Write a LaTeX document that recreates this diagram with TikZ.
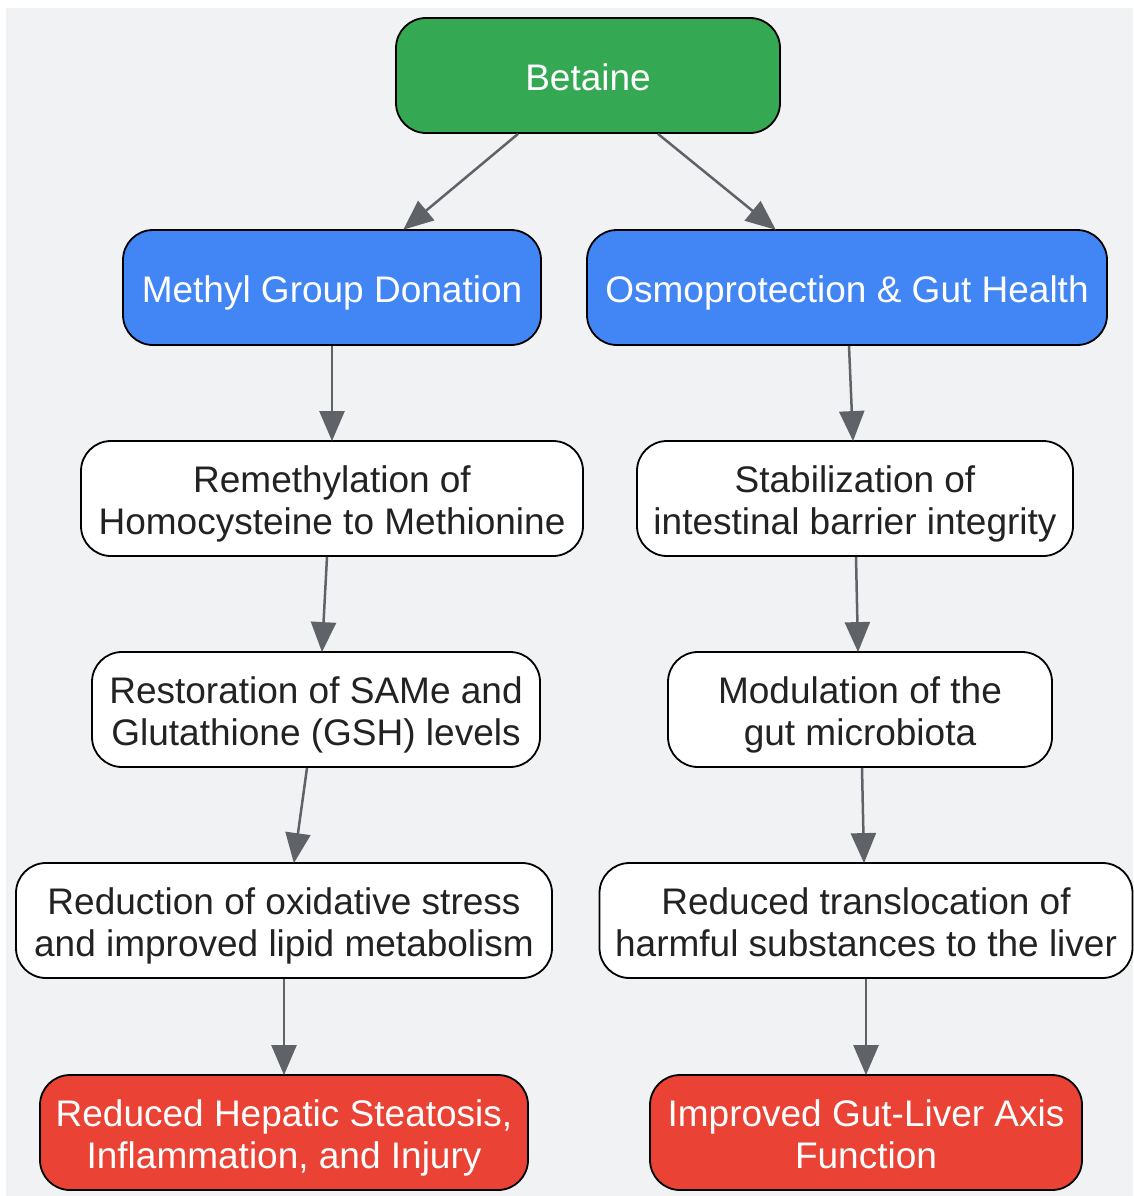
\documentclass[tikz,border=0pt]{standalone}
\usepackage{fontspec}
\setmainfont{Liberation Sans}
\usetikzlibrary{arrows.meta}
\definecolor{bg}{HTML}{F1F2F4}
\definecolor{gr}{HTML}{34A853}
\definecolor{bl}{HTML}{4285F4}
\definecolor{rd}{HTML}{EA4335}
\definecolor{ar}{HTML}{5F6368}
\definecolor{tx}{HTML}{222222}
\tikzset{
  box/.style={draw=black, line width=1.8pt, rounded corners=30pt, inner sep=0pt,
    minimum height=115pt},
  lbl/.style={align=center, font=\fontsize{37}{42}\selectfont, yshift=-7pt},
  whitebox/.style={box, fill=white, label={[lbl, text=tx]center:\strut #1\strut}},
  greenbox/.style={box, fill=gr, label={[lbl, text=white]center:\strut #1\strut}},
  bluebox/.style={box, fill=bl, label={[lbl, text=white]center:\strut #1\strut}},
  redbox/.style={box, fill=rd, label={[lbl, text=white]center:\strut #1\strut}},
  conn/.style={draw=ar, line width=2.5pt, -{Triangle[length=30pt,width=25pt]}, shorten >=-1pt}
}
\begin{document}
\begin{tikzpicture}[x=1pt,y=-1pt]
\useasboundingbox (0,0) rectangle (1133,1196);
\fill[bg] (6,8) rectangle (1133,1196);

\node[greenbox={Betaine}, minimum width=384pt] (bet) at (588,75.5) {};
\node[bluebox={Methyl Group Donation}, minimum width=418pt] (meth) at (332,287.5) {};
\node[bluebox={Osmoprotection \& Gut Health}, minimum width=520pt] (osmo) at (847,287.5) {};
\node[whitebox={Remethylation of\\Homocysteine to Methionine}, minimum width=502pt] (remeth) at (332,498.5) {};
\node[whitebox={Stabilization of\\intestinal barrier integrity}, minimum width=436pt] (stab) at (855,498.5) {};
\node[whitebox={Restoration of SAMe and\\Glutathione (GSH) levels}, minimum width=448pt] (rest) at (316,709.5) {};
\node[whitebox={Modulation of the\\gut microbiota}, minimum width=384pt] (modu) at (860,709.5) {};
\node[whitebox={Reduction of oxidative stress\\and improved lipid metabolism}, minimum width=536pt] (redox) at (284,920.5) {};
\node[whitebox={Reduced translocation of\\harmful substances to the liver}, minimum width=533pt] (trans) at (866,920.5) {};
\node[redbox={Reduced Hepatic Steatosis,\\Inflammation, and Injury}, minimum width=488pt] (hep) at (284,1132.5) {};
\node[redbox={Improved Gut-Liver Axis\\Function}, minimum width=432pt] (gla) at (866,1132.5) {};

\draw[conn] ([xshift=-70pt]bet.south) -- ([xshift=72pt]meth.north);
\draw[conn] ([xshift=70pt]bet.south) -- ([xshift=-72pt]osmo.north);
\draw[conn] (meth.south) -- (remeth.north);
\draw[conn] ([xshift=2pt]osmo.south) -- ([xshift=-2pt]stab.north);
\draw[conn] ([xshift=-5pt]remeth.south) -- ([xshift=6pt]rest.north);
\draw[conn] ([xshift=1pt]stab.south) -- ([xshift=-2pt]modu.north);
\draw[conn] ([xshift=-9pt]rest.south) -- ([xshift=10pt]redox.north);
\draw[conn] ([xshift=2pt]modu.south) -- ([xshift=-2pt]trans.north);
\draw[conn] (redox.south) -- (hep.north);
\draw[conn] (trans.south) -- (gla.north);
\end{tikzpicture}
\end{document}
